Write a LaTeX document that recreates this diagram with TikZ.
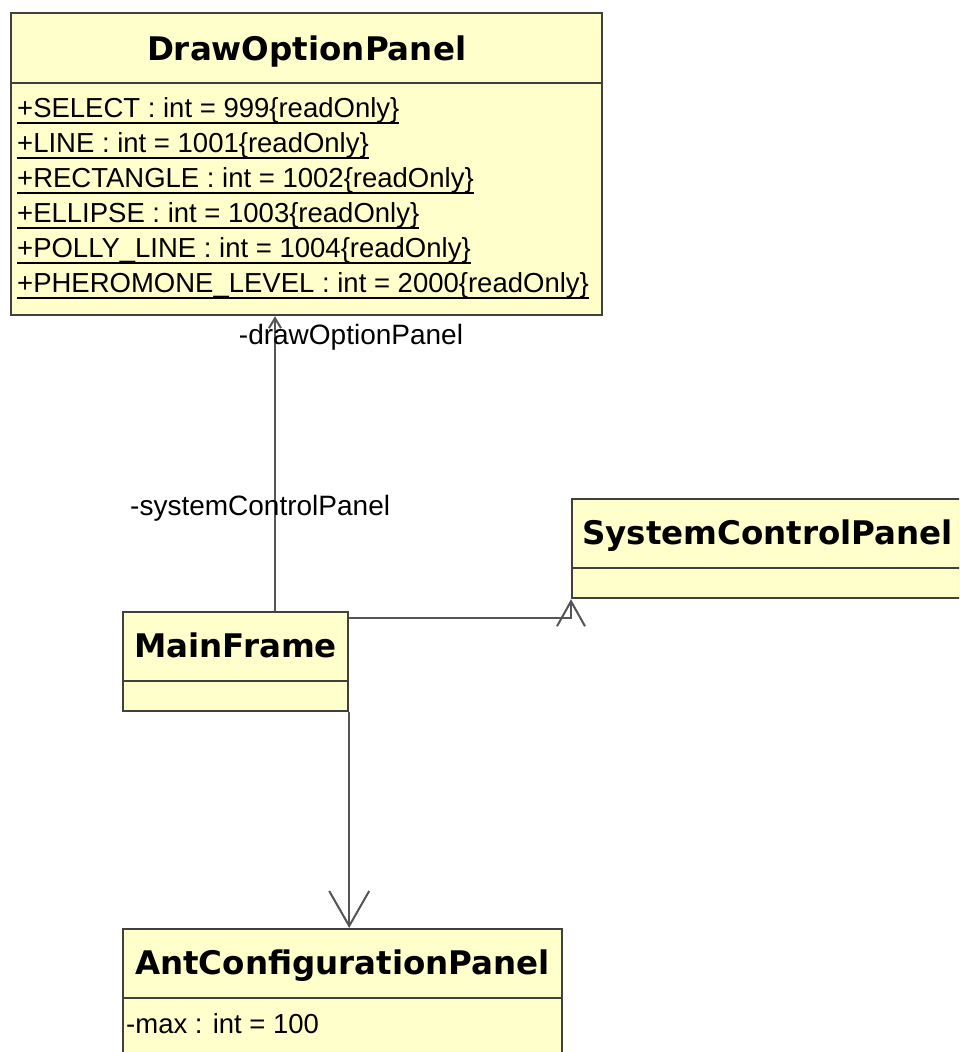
\documentclass[tikz,border=0pt]{standalone}
\usepackage{fontspec}
\setmainfont{Liberation Sans}
\newfontfamily\clsfont{DejaVu Sans}
\usetikzlibrary{arrows.meta}
\definecolor{clsfill}{HTML}{FFFFCC}
\definecolor{clsedge}{HTML}{404040}
\definecolor{wire}{HTML}{555555}
% underline for static attributes: a fixed rule below the baseline
\newcommand{\staticattr}[1]{\setbox0\hbox{#1}\rlap{\rule[-6.5pt]{\wd0}{1.8pt}}\box0}

\begin{document}
\begin{tikzpicture}[x=1pt,y=-1pt,
  classbox/.style={draw=clsedge, fill=clsfill, line width=2.2pt, inner sep=0pt, anchor=north west},
  divider/.style={draw=clsedge, line width=2.2pt},
  classname/.style={font=\clsfont\bfseries\fontsize{32.5}{38}\selectfont, inner sep=0pt, anchor=base},
  attr/.style={font=\fontsize{27.5}{35}\selectfont, inner sep=0pt, anchor=base west},
  role/.style={font=\fontsize{28}{34}\selectfont, inner sep=0pt},
  assoc/.style={draw=wire, line width=2pt},
  navbig/.style={-{Straight Barb[length=35pt,width=40pt]}},
  navmid/.style={-{Straight Barb[length=25pt,width=28pt]}},
  navsmall/.style={-{Straight Barb[length=10pt,width=12pt]}}
]
\useasboundingbox (0,0) rectangle (959,1052);
\clip (0,0) rectangle (959,1052);
\fill[white] (0,0) rectangle (959,1052);

% DrawOptionPanel
\node[classbox, minimum width=591pt, minimum height=302pt] (dop) at (10,12) {};
\draw[divider] ([yshift=-71pt]dop.north west) -- ([yshift=-71pt]dop.north east);
\node[classname] (dopname) at ([yshift=-48pt]dop.north) {DrawOptionPanel};
\node[attr] (dopa1) at (17,117) {\staticattr{+SELECT : int = 999\{readOnly\}}};
\node[attr] (dopa2) at (17,152) {\staticattr{+LINE : int = 1001\{readOnly\}}};
\node[attr] (dopa3) at (17,187) {\staticattr{+RECTANGLE : int = 1002\{readOnly\}}};
\node[attr] (dopa4) at (17,222) {\staticattr{+ELLIPSE : int = 1003\{readOnly\}}};
\node[attr] (dopa5) at (17,257) {\staticattr{+POLLY\_LINE : int = 1004\{readOnly\}}};
\node[attr] (dopa6) at (17,292) {\staticattr{+PHEROMONE\_LEVEL : int = 2000\{readOnly\}}};

% SystemControlPanel
\node[classbox, minimum width=391pt, minimum height=99pt] (scp) at (571,498) {};
\draw[divider] ([yshift=-70pt]scp.north west) -- ([yshift=-70pt]scp.north east);
\node[classname] (scpname) at ([yshift=-46pt]scp.north) {SystemControlPanel};

% MainFrame
\node[classbox, minimum width=225pt, minimum height=99pt] (mf) at (122,611) {};
\draw[divider] ([yshift=-70pt]mf.north west) -- ([yshift=-70pt]mf.north east);
\node[classname] (mfname) at ([yshift=-46pt]mf.north) {MainFrame};

% AntConfigurationPanel
\node[classbox, minimum width=439pt, minimum height=150pt] (acp) at (122,928) {};
\draw[divider] ([yshift=-70pt]acp.north west) -- ([yshift=-70pt]acp.north east);
\node[classname] (acpname) at ([yshift=-46pt]acp.north) {AntConfigurationPanel};
\node[attr] (acpa1) at (126,1033) {-max : int = 100};

% associations
\coordinate (mfup) at ([xshift=153pt]mf.north west);
\draw[assoc, navsmall] (mfup) -- (mfup |- dop.south);
\draw[assoc, navmid] ([yshift=-7pt]mf.north east) -| (scp.south west);
\draw[assoc, navbig] (mf.south east) -- (mf.south east |- acp.north);

% role names
\node[role, anchor=base] (roledop) at (351,344) {-drawOptionPanel};
\node[role, anchor=base west] (rolescp) at (130,515) {-systemControlPanel};
\end{tikzpicture}
\end{document}
